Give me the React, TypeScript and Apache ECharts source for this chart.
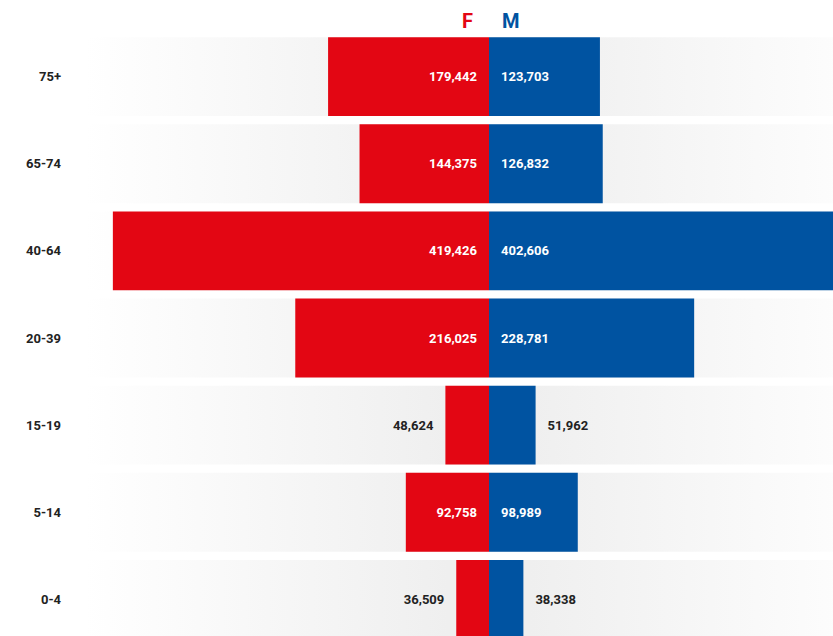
import React, { useEffect, useRef } from "react";
import * as echarts from "echarts";

const categories = ["75+", "65-74", "40-64", "20-39", "15-19", "5-14", "0-4"];
const femaleValues = [179442, 144375, 419426, 216025, 48624, 92758, 36509];
const maleValues = [123703, 126832, 402606, 228781, 51962, 98989, 38338];
const seriesNames = ["F", "M"];

const RED = "#e30613";
const BLUE = "#0053a1";
const AXIS_MAX = 450500;
const INSIDE_MIN = 60000;

const fmt = (v: number) => Math.abs(v).toLocaleString("en-US");

export default function App() {
  const ref = useRef<HTMLDivElement>(null);
  useEffect(() => {
    if (!ref.current) return;
    const chart = echarts.init(ref.current, undefined, { renderer: "svg" });
    const labelFont = {
      fontFamily: "Roboto, 'DejaVu Sans', sans-serif",
      fontWeight: "bold" as const,
      fontSize: 13,
    };
    const fData = femaleValues.map((v) => ({
      value: -v,
      label:
        v >= INSIDE_MIN
          ? { position: "insideRight", color: "#ffffff" }
          : { position: "left", color: "#222222" },
    }));
    const mData = maleValues.map((v) => ({
      value: v,
      label:
        v >= INSIDE_MIN
          ? { position: "insideLeft", color: "#ffffff" }
          : { position: "right", color: "#222222" },
    }));
    chart.setOption({
      animation: false,
      backgroundColor: "#ffffff",
      grid: { left: 85, right: 0, top: 33, bottom: 0, containLabel: false },
      xAxis: {
        type: "value",
        min: -AXIS_MAX,
        max: AXIS_MAX,
        show: false,
        splitLine: { show: false },
      },
      yAxis: {
        type: "category",
        data: categories,
        inverse: true,
        axisLine: { show: false },
        axisTick: { show: false },
        splitLine: { show: false },
        axisLabel: {
          margin: 24,
          color: "#222222",
          ...labelFont,
        },
      },
      graphic: [
        {
          type: "text",
          left: 462,
          top: 11,
          style: {
            text: seriesNames[0],
            fill: RED,
            font: "bold 20px Roboto, 'DejaVu Sans', sans-serif",
          },
        },
        {
          type: "text",
          left: 502,
          top: 11,
          style: {
            text: seriesNames[1],
            fill: BLUE,
            font: "bold 20px Roboto, 'DejaVu Sans', sans-serif",
          },
        },
      ],
      series: [
        {
          name: seriesNames[0],
          type: "bar",
          data: fData,
          barGap: "-100%",
          barCategoryGap: "9.5%",
          itemStyle: { color: RED },
          showBackground: true,
          backgroundStyle: {
            color: {
              type: "linear",
              x: 0,
              y: 0,
              x2: 1,
              y2: 0,
              colorStops: [
                { offset: 0, color: "#ffffff" },
                { offset: 0.45, color: "#efefef" },
                { offset: 0.55, color: "#efefef" },
                { offset: 1, color: "#ffffff" },
              ],
            },
          },
          label: {
            show: true,
            distance: 12,
            formatter: (p: any) => fmt(p.value),
            ...labelFont,
          },
          z: 2,
        },
        {
          name: seriesNames[1],
          type: "bar",
          data: mData,
          barGap: "-100%",
          barCategoryGap: "9.5%",
          itemStyle: { color: BLUE },
          label: {
            show: true,
            distance: 12,
            formatter: (p: any) => fmt(p.value),
            ...labelFont,
          },
          z: 2,
        },
      ],
    });
    return () => chart.dispose();
  }, []);
  return (
    <div
      style={{
        position: "fixed",
        left: 0,
        top: 0,
        width: 833,
        height: 636,
        overflow: "hidden",
        background: "#ffffff",
      }}
    >
      <div ref={ref} style={{ width: 893, height: 643 }} />
    </div>
  );
}
